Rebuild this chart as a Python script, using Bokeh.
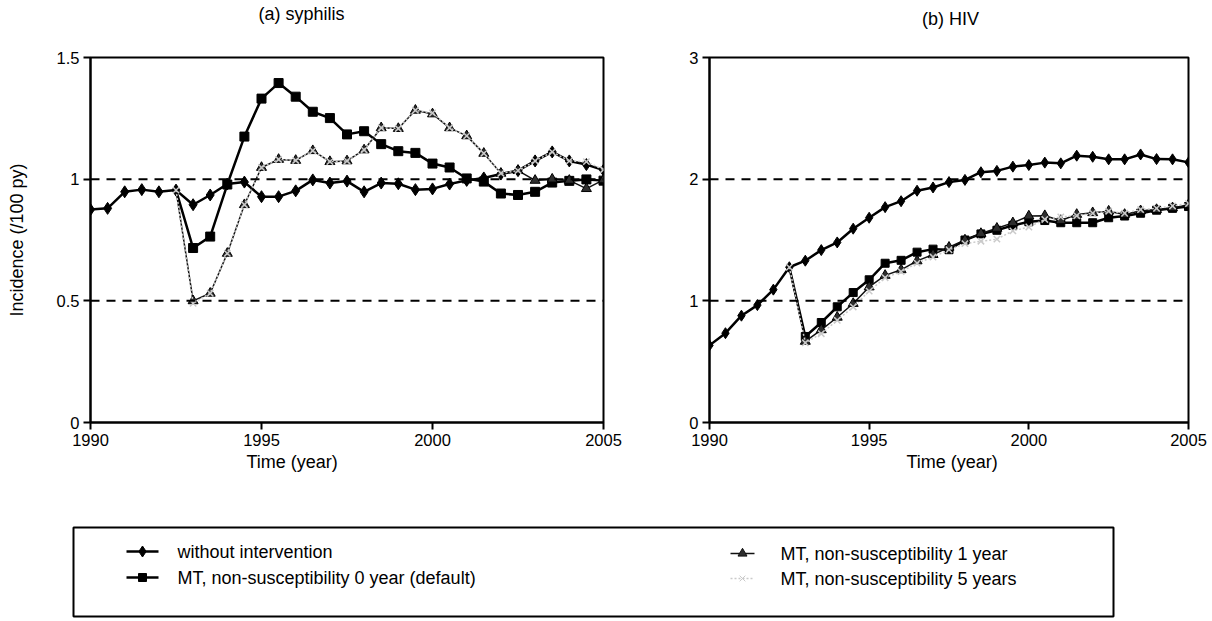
from bokeh.plotting import figure
from bokeh.layouts import column, row
from bokeh.models import (Range1d, Span, Title, NumeralTickFormatter, FixedTicker,
                          ColumnDataSource, CDSView, IndexFilter)
from bokeh.core.properties import value
from bokeh.embed import file_html
from bokeh.resources import INLINE

FONT = "Liberation Sans"

# ---------------- data ----------------
years = [1990.0, 1990.5, 1991.0, 1991.5, 1992.0, 1992.5, 1993.0, 1993.5, 1994.0, 1994.5,
         1995.0, 1995.5, 1996.0, 1996.5, 1997.0, 1997.5, 1998.0, 1998.5, 1999.0, 1999.5,
         2000.0, 2000.5, 2001.0, 2001.5, 2002.0, 2002.5, 2003.0, 2003.5, 2004.0, 2004.5,
         2005.0]
branch_years = years[5:]  # interventions branch off at 1992.5

syph_base = [0.875, 0.88, 0.948, 0.957, 0.948, 0.955, 0.895, 0.935, 0.98, 0.988,
             0.928, 0.928, 0.952, 0.997, 0.984, 0.992, 0.948, 0.984, 0.981, 0.957,
             0.96, 0.98, 0.995, 1.005, 1.021, 1.035, 1.075, 1.112, 1.075, 1.06, 1.037]
syph_mt0 = [0.955, 0.717, 0.764, 0.978, 1.175, 1.331, 1.395, 1.339, 1.277, 1.251,
            1.184, 1.197, 1.144, 1.115, 1.108, 1.064, 1.048, 1.003, 0.99, 0.941,
            0.935, 0.948, 0.986, 0.993, 0.999, 0.994]
syph_mt1 = [0.955, 0.50, 0.531, 0.695, 0.895, 1.048, 1.081, 1.077, 1.117, 1.072,
            1.075, 1.12, 1.211, 1.208, 1.283, 1.268, 1.211, 1.178, 1.106, 1.024,
            1.035, 0.995, 1.0, 0.995, 0.961, 0.997]
syph_mt5 = [0.955, 0.49, 0.531, 0.695, 0.895, 1.048, 1.081, 1.077, 1.117, 1.072,
            1.075, 1.12, 1.211, 1.208, 1.283, 1.272, 1.211, 1.178, 1.106, 1.024,
            1.035, 1.075, 1.112, 1.075, 1.072, 1.039]

hiv_base = [0.634, 0.734, 0.878, 0.965, 1.092, 1.276, 1.33, 1.417, 1.48, 1.593,
            1.683, 1.77, 1.819, 1.905, 1.932, 1.976, 1.994, 2.057, 2.068, 2.103,
            2.116, 2.136, 2.13, 2.193, 2.184, 2.163, 2.163, 2.203, 2.165, 2.163, 2.138]
hiv_mt0 = [1.276, 0.707, 0.822, 0.951, 1.068, 1.173, 1.309, 1.333, 1.40, 1.425,
           1.42, 1.50, 1.55, 1.58, 1.62, 1.65, 1.66, 1.642, 1.642, 1.642,
           1.683, 1.697, 1.72, 1.745, 1.76, 1.775]
hiv_mt1 = [1.276, 0.667, 0.762, 0.865, 0.978, 1.114, 1.209, 1.255, 1.328, 1.38,
           1.44, 1.50, 1.553, 1.596, 1.641, 1.697, 1.70, 1.66, 1.71, 1.724,
           1.737, 1.71, 1.74, 1.75, 1.764, 1.79]
hiv_mt5 = [1.276, 0.655, 0.73, 0.84, 0.95, 1.08, 1.19, 1.24, 1.31, 1.36,
           1.42, 1.47, 1.49, 1.507, 1.575, 1.607, 1.669, 1.69, 1.70, 1.72,
           1.737, 1.72, 1.75, 1.76, 1.78, 1.80]

x_ticks = [1990, 1995, 2000, 2005]
syph_yticks = [0, 0.5, 1, 1.5]
hiv_yticks = [0, 1, 2, 3]
syph_refs = [0.5, 1.0]
hiv_refs = [1.0, 2.0]

panel_titles = ["(a) syphilis", "(b) HIV"]
series_labels = ["without intervention",
                 "MT, non-susceptibility 0 year (default)",
                 "MT, non-susceptibility 1 year",
                 "MT, non-susceptibility 5 years"]

GRAY = "#cacaca"


def panel(base, mt0, mt1, mt5, ymax, yticks, refs, xlab_off,
          width, height, border_l, border_r, border_t, border_b, ylabel=None,
          dsize=12, ssize=9):
    p = figure(width=width, height=height, x_range=Range1d(1990, 2005),
               y_range=Range1d(0, ymax), output_backend="svg", title=None,
               toolbar_location=None, min_border_left=border_l,
               min_border_right=border_r, min_border_top=border_t,
               min_border_bottom=border_b)
    p.background_fill_color = "white"
    p.border_fill_color = "white"
    p.outline_line_color = "black"
    p.outline_line_width = 2
    p.grid.visible = False

    for ax in (p.xaxis[0], p.yaxis[0]):
        ax.axis_line_width = 2
        ax.axis_line_color = "black"
        ax.major_tick_line_width = 2
        ax.major_tick_line_color = "black"
        ax.major_tick_out = 7
        ax.major_tick_in = 0
        ax.minor_tick_line_color = None
        ax.major_label_text_font = FONT
        ax.major_label_text_font_size = "16.5px"
        ax.major_label_text_color = "black"
        ax.major_label_standoff = 4
    p.xaxis.ticker = FixedTicker(ticks=x_ticks)
    p.yaxis.ticker = FixedTicker(ticks=yticks)
    p.yaxis.formatter = NumeralTickFormatter(format="0.[0]")
    if ylabel:
        p.yaxis.axis_label = ylabel
        p.yaxis.axis_label_text_font = FONT
        p.yaxis.axis_label_text_font_size = "18px"
        p.yaxis.axis_label_text_font_style = "normal"
        p.yaxis.axis_label_text_color = "black"
        p.yaxis.axis_label_standoff = 27

    p.add_layout(Title(text="Time (year)", align="left", offset=xlab_off,
                       standoff=2, text_font=FONT, text_font_size="18px",
                       text_font_style="normal", text_color="black"), "below")

    for r in refs:
        p.add_layout(Span(location=r, dimension="width", line_color="black",
                          line_width=2, line_dash="9 7"))

    src_b = ColumnDataSource(dict(x=years, y=base))
    p.line("x", "y", source=src_b, line_color="black", line_width=2.5)
    p.scatter("x", "y", source=src_b, marker="diamond", size=dsize,
              fill_color="black", line_color="black")

    src0 = ColumnDataSource(dict(x=branch_years, y=mt0))
    p.line("x", "y", source=src0, line_color="black", line_width=2.5)
    p.scatter("x", "y", source=src0,
              view=CDSView(filter=IndexFilter(list(range(1, len(branch_years))))),
              marker="square", size=ssize, fill_color="black", line_color="black")

    src1 = ColumnDataSource(dict(x=branch_years, y=mt1))
    p.line("x", "y", source=src1, line_color="#111111", line_width=1.5)
    p.scatter("x", "y", source=src1,
              view=CDSView(filter=IndexFilter(list(range(1, len(branch_years))))),
              marker="triangle", size=10, fill_color="#2e2e2e",
              line_color="black", line_width=1)

    src5 = ColumnDataSource(dict(x=branch_years, y=mt5))
    p.line("x", "y", source=src5, line_color=GRAY, line_width=1.5, line_dash="2 2")
    p.scatter("x", "y", source=src5, marker="x", size=9, line_color=GRAY,
              line_width=1.5)
    return p


# header with the two panel titles (page pixel coordinates)
head = figure(width=1212, height=30, x_range=Range1d(0, 1212),
              y_range=Range1d(30, 0), output_backend="svg",
              toolbar_location=None, min_border=0, x_axis_type=None,
              y_axis_type=None)
head.outline_line_color = None
head.grid.visible = False
head.text(x=[301, 950], y=[13, 18], text=panel_titles, text_align="center",
          text_baseline="middle", text_font=value(FONT), text_font_size="18px",
          text_color="black")

pA = panel(syph_base, syph_mt0, syph_mt1, syph_mt5, 1.5, syph_yticks, syph_refs,
           156, 650, 455, 90, 47, 18, 63, ylabel="Incidence (/100 py)")
pB = panel(hiv_base, hiv_mt0, hiv_mt1, hiv_mt5, 3, hiv_yticks, hiv_refs,
           197, 562, 455, 59, 24, 27, 58, dsize=11, ssize=8)

# ---------------- legend (page pixel coordinates) ----------------
leg = figure(width=1212, height=134, x_range=Range1d(0, 1212),
             y_range=Range1d(619, 485), output_backend="svg",
             toolbar_location=None, min_border=0, x_axis_type=None,
             y_axis_type=None)
leg.outline_line_color = None
leg.grid.visible = False
leg.quad(left=[73], right=[1113], top=[527], bottom=[616], fill_color=None,
         line_color="black", line_width=2)

leg_sample_x0 = [126, 126, 730, 730]
leg_sample_x1 = [158, 158, 754, 754]
leg_text_x = [177, 177, 780, 780]
leg_y = [551, 577, 553, 578]
leg_markers = ["diamond", "square", "triangle", "x"]
leg_line_colors = ["black", "black", "#111111", GRAY]
leg_line_widths = [2.5, 2.5, 1.5, 1.5]
leg_dash = ["solid", "solid", "solid", "2 2"]
leg_msize = [11, 8, 9, 8]
leg_fill = ["black", "black", "#2e2e2e", GRAY]

for i in range(4):
    leg.line([leg_sample_x0[i], leg_sample_x1[i]], [leg_y[i], leg_y[i]],
             line_color=leg_line_colors[i], line_width=leg_line_widths[i],
             line_dash=leg_dash[i])
    leg.scatter([(leg_sample_x0[i] + leg_sample_x1[i]) / 2], [leg_y[i]],
                marker=leg_markers[i], size=leg_msize[i],
                fill_color=leg_fill[i], line_color=leg_line_colors[i])

leg.text(x=leg_text_x, y=leg_y, text=series_labels, text_baseline="middle",
         text_align="left", text_font=value(FONT), text_font_size="18px",
         text_color="black")

layout = column(head, row(pA, pB), leg)
open("out.html", "w").write(file_html(layout, INLINE))
